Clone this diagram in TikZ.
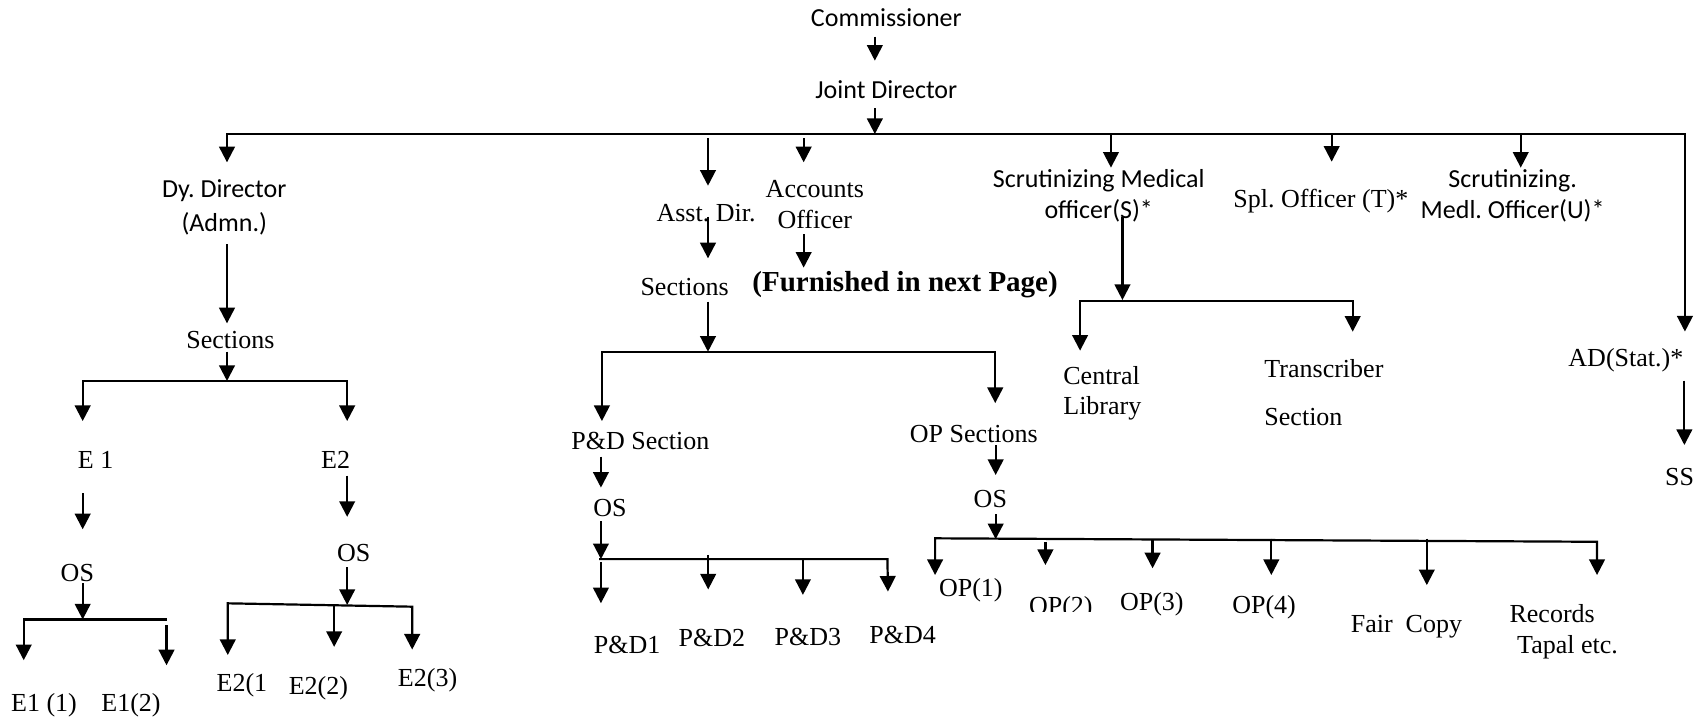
\documentclass[tikz,border=0pt]{standalone}
\usepackage{fontspec}
\setmainfont{Liberation Serif}
\newfontfamily\calfont{Carlito}
\usetikzlibrary{arrows.meta}
\frenchspacing
\tikzset{
  txt/.style={font=\fontsize{13}{#1}\selectfont, inner sep=0pt},
  txt/.default=15.5,
  cal/.style={font=\calfont\fontsize{13}{#1}\selectfont, inner sep=0pt},
  cal/.default=16,
  ln/.style={line width=1.1pt},
  arr/.style={ln, -{Triangle[length=7.8pt,width=7.8pt]}},
  arrtwo/.style={ln, {Triangle[length=7.8pt,width=7.8pt]}-{Triangle[length=7.8pt,width=7.8pt]}},
}
\begin{document}
\begin{tikzpicture}[x=0.5417pt,y=-0.5417pt]
\useasboundingbox (0,0) rectangle (1568,666);
% ---------- nodes ----------
\node[cal] (com) at (818,16) {Commissioner};
\node[cal] (jd) at (818,82.4) {Joint Director};
\node[cal=16.6, align=center] (dy) at (207,191.3) {Dy. Director\\(Admn.)};
\node[txt] (secL) at (212.7,313.8) {Sections};
\node[txt] (e1) at (88.3,424.5) {E 1};
\node[txt] (e2) at (309.8,424.5) {E2};
\node[txt] (osL) at (71.4,529) {OS};
\node[txt] (osR) at (326.4,510) {OS};
\node[txt] (e11) at (40.6,650.6) {E1 (1)};
\node[txt] (e12) at (120.9,650.6) {E1(2)};
\node[txt] (e21) at (223.3,632.2) {E2(1};
\node[txt] (e22) at (293.9,635.3) {E2(2)};
\node[txt] (e23) at (394.6,627.6) {E2(3)};
\node[txt] (asst) at (651.6,196.9) {Asst. Dir.};
\node[txt=15.5, align=center] (acc) at (752,188.7) {Accounts\\Officer};
\node[txt] (secM) at (631.8,265.2) {Sections};
\node[inner sep=0pt, font=\bfseries\fontsize{14.5}{17}\selectfont] (furn) at (835.3,263) {(Furnished in next Page)};
\node[txt] (pd) at (591,407) {P\&D Section};
\node[txt] (opS) at (898.8,400.5) {OP Sections};
\node[txt] (osPD) at (563,469) {OS};
\node[txt] (osOP) at (914,460.8) {OS};
\node[txt] (pd1) at (578.7,595) {P\&D1};
\node[txt] (pd2) at (657,589) {P\&D2};
\node[txt] (pd3) at (745.6,588) {P\&D3};
\node[txt] (pd4) at (833,586) {P\&D4};
\node[txt] (op1) at (896,544.5) {OP(1)};
\begin{scope}
  \clip (930,530) rectangle (1030,564.5);
  \node[txt, anchor=base] (op2) at (979,567.5) {OP(2)};
\end{scope}
\node[txt] (op3) at (1063,558) {OP(3)};
\node[txt] (op4) at (1166.6,560.4) {OP(4)};
\node[txt] (fair) at (1298,578.4) {Fair\ \ Copy};
\node[txt=15.4, align=left, anchor=west] (rec) at (1392.8,583.2) {Records\\\hspace*{3.8pt}Tapal etc.};
\node[cal=15.9, align=center] (smS) at (1014,180.7) {Scrutinizing Medical\\officer(S)*};
\node[txt] (spl) at (1219,185.5) {Spl. Officer (T)*};
\node[cal=15.9, align=center] (smU) at (1396,180.7) {Scrutinizing.\\Medl. Officer(U)*};
\node[txt=15.1, align=left, anchor=west] (cl) at (981,363) {Central\\Library};
\node[txt=24.2, align=left, anchor=west] (tr) at (1166.6,362.3) {Transcriber\\Section};
\node[txt] (ad) at (1500.5,332.3) {AD(Stat.)*};
\node[txt] (ss) at (1550,440) {SS};
% ---------- coordinates ----------
\coordinate (comS) at (807.4,33.8);
\coordinate (jdN) at (807.4,56);
\coordinate (jdS) at (807.4,100);
\coordinate (jdB) at (807.4,123.7);
\coordinate (dyT) at (209.5,149.8);
\coordinate (busR) at (1555,123.7);
\coordinate (adT) at (1555,306);
\coordinate (asA) at (653.4,127.7);
\coordinate (asT) at (653.4,171.4);
\coordinate (acA) at (741.7,127.7);
\coordinate (acT) at (741.7,149.8);
\coordinate (smSA) at (1025.3,123.7);
\coordinate (smST) at (1025.3,154.7);
\coordinate (splA) at (1229,123.7);
\coordinate (splT) at (1229,149.2);
\coordinate (smUA) at (1403.5,123.7);
\coordinate (smUT) at (1403.5,154.7);
% left branch
\coordinate (dyS) at (209.5,225.2);
\coordinate (secLN) at (209.5,298.4);
\coordinate (secLS) at (209.5,324.6);
\coordinate (secLB) at (209.5,351.6);
\coordinate (eBR) at (320.4,351.6);
\coordinate (e1T) at (76.3,388.6);
\coordinate (e2T) at (320.4,388.6);
\coordinate (e1S) at (76.3,455.3);
\coordinate (osLN) at (76.3,488.5);
\coordinate (e2S) at (320.4,439);
\coordinate (osRN) at (320.4,477);
\coordinate (osLS) at (76.3,538.4);
\coordinate (osLB) at (76.3,571.7);
\coordinate (e1BR) at (153.7,571.7);
\coordinate (e11T) at (21.9,609.3);
\coordinate (e12A) at (153.7,577);
\coordinate (e12T) at (153.7,614);
\coordinate (osRS) at (320.4,523.6);
\coordinate (osRB) at (320.4,558.3);
\coordinate (e2BL) at (210.2,556.8);
\coordinate (e2BR) at (380.4,559.9);
\coordinate (e21T) at (210.2,604.5);
\coordinate (e23T) at (380.4,599.5);
\coordinate (e22A) at (308.4,558.8);
\coordinate (e22T) at (308.4,597);
% middle branch
\coordinate (asS) at (653.4,200);
\coordinate (secMN) at (653.4,238.4);
\coordinate (acS) at (741.7,216.3);
\coordinate (furnN) at (741.7,247);
\coordinate (secMS) at (653.4,278.4);
\coordinate (secMB) at (653.4,324.6);
\coordinate (mBR) at (918.5,324.6);
\coordinate (pdT) at (555.5,388.6);
\coordinate (opST) at (918.5,372);
\coordinate (pdS) at (554.6,421.5);
\coordinate (osPDN) at (554.6,450);
\coordinate (osPDS) at (554.6,481);
\coordinate (osPDB) at (554.6,516);
\coordinate (pdBL) at (553,516);
\coordinate (pdBR) at (819,516);
\coordinate (pd4T) at (819.5,546);
\coordinate (pd1A) at (554.6,518.5);
\coordinate (pd1T) at (554.6,556.7);
\coordinate (pd2A) at (653.6,512);
\coordinate (pd2T) at (653.6,544);
\coordinate (pd3A) at (741,516);
\coordinate (pd3T) at (741,549);
\coordinate (opSS) at (918.9,410.8);
\coordinate (osOPN) at (918.9,438.4);
\coordinate (osOPS) at (918.9,474.4);
\coordinate (osOPB) at (918.9,497.6);
\coordinate (opBL) at (863,496.8);
\coordinate (opBR) at (1473.9,500);
\coordinate (op1T) at (863,530.7);
\coordinate (recT) at (1473.9,530.7);
\coordinate (op2A) at (964.8,500);
\coordinate (op2T) at (964.8,521.5);
\coordinate (op3A) at (1063.7,498.4);
\coordinate (op3T) at (1063.7,524.5);
\coordinate (op4A) at (1173.3,497);
\coordinate (op4T) at (1173.3,530.7);
\coordinate (fairA) at (1316.8,497);
\coordinate (fairT) at (1316.8,540);
% right branch
\coordinate (smSS) at (1035.9,200);
\coordinate (smSB) at (1035.9,276.9);
\coordinate (rBR) at (1248.4,277.5);
\coordinate (clT) at (996.8,323.6);
\coordinate (trT) at (1248.4,306.1);
\coordinate (adS) at (1554.5,351.3);
\coordinate (ssN) at (1554.5,410.7);
% ---------- connectors ----------
\draw[arr] (comS) -- (jdN);
\draw[arr] (jdS) -- (jdB);
\draw[arrtwo] (dyT) |- (busR) -- (adT);
\draw[arr] (asA) -- (asT);
\draw[arr] (acA) -- (acT);
\draw[arr] (smSA) -- (smST);
\draw[arr] (splA) -- (splT);
\draw[arr] (smUA) -- (smUT);
% left
\draw[arr] (dyS) -- (secLN);
\draw[arr] (secLS) -- (secLB);
\draw[arrtwo] (e1T) |- (eBR) -- (e2T);
\draw[arr] (e1S) -- (osLN);
\draw[arr] (e2S) -- (osRN);
\draw[arr] (osLS) -- (osLB);
\draw[arr] (e1BR) -| (e11T);
\draw[arr] (e12A) -- (e12T);
\draw[arr] (osRS) -- (osRB);
\draw[arrtwo] (e21T) -- (e2BL) -- (e2BR) -- (e23T);
\draw[arr] (e22A) -- (e22T);
% middle
\draw[arr] (asS) -- (secMN);
\draw[arr] (acS) -- (furnN);
\draw[arr] (secMS) -- (secMB);
\draw[arrtwo] (pdT) |- (mBR) -- (opST);
\draw[arr] (pdS) -- (osPDN);
\draw[arr] (osPDS) -- (osPDB);
\draw[arr] (pdBL) -- (pdBR) -- (pd4T);
\draw[arr] (pd1A) -- (pd1T);
\draw[arr] (pd2A) -- (pd2T);
\draw[arr] (pd3A) -- (pd3T);
\draw[arr] (opSS) -- (osOPN);
\draw[arr] (osOPS) -- (osOPB);
\draw[arrtwo] (op1T) -- (opBL) -- (opBR) -- (recT);
\draw[arr] (op2A) -- (op2T);
\draw[arr] (op3A) -- (op3T);
\draw[arr] (op4A) -- (op4T);
\draw[arr] (fairA) -- (fairT);
% right
\draw[arr] (smSS) -- (smSB);
\draw[arrtwo] (clT) |- (rBR) -- (trT);
\draw[arr] (adS) -- (ssN);
\end{tikzpicture}
\end{document}
